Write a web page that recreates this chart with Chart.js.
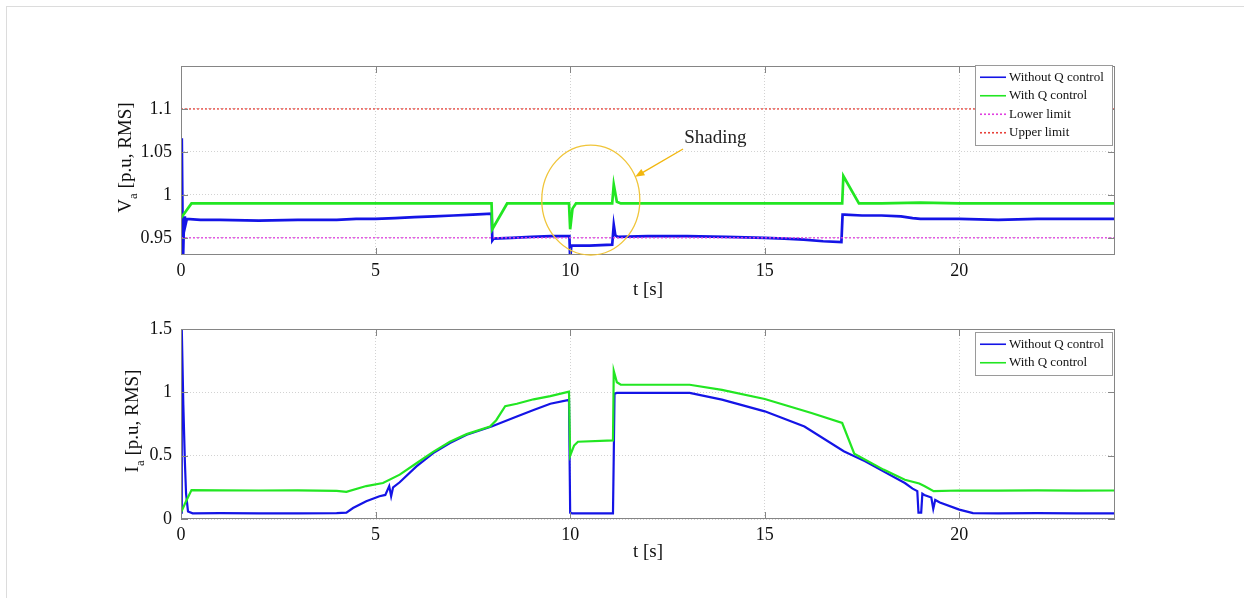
<!DOCTYPE html>
<html>
<head>
<meta charset="utf-8">
<script src="https://cdn.jsdelivr.net/npm/chart.js@4"></script>
<style>
  html, body { margin: 0; padding: 0; background: #fff; }
  body { width: 1244px; height: 598px; position: relative; overflow: hidden; }
  .frame { position: absolute; left: 6px; top: 6px; width: 1300px; height: 700px;
           border-top: 1px solid #dcdcdc; border-left: 1px solid #dcdcdc; }
  canvas { position: absolute; left: 0; }
  #vaChart { top: 0; }
  #iaChart { top: 305px; }
</style>
</head>
<body>
<div class="frame"></div>
<canvas id="vaChart" width="1244" height="305"></canvas>
<canvas id="iaChart" width="1244" height="293"></canvas>
<script>
// --- Va [p.u, RMS] (upper panel) ---
const vaTimeWithout = [0, 0.02, 0.05, 0.08, 0.1, 0.15, 0.5, 1, 2, 3, 4, 4.5, 5, 5.5, 6, 6.5, 7, 7.5, 7.98,
  8.0, 8.03, 8.5, 9, 9.5, 9.98, 10.0, 10.03, 10.5, 11.08, 11.12, 11.16, 11.22, 12, 13, 14, 15,
  15.5, 16, 16.5, 16.97, 17.0, 17.05, 17.5, 18, 18.5, 18.8, 19, 19.5, 20, 21, 22, 23, 24];
const vaWithout = [0.92, 1.066, 0.92, 0.975, 0.962, 0.972, 0.971, 0.971, 0.970, 0.971, 0.971, 0.972, 0.972, 0.973, 0.974, 0.975, 0.976, 0.977, 0.978,
  0.947, 0.949, 0.95, 0.951, 0.952, 0.952, 0.925, 0.941, 0.941, 0.942, 0.965, 0.953, 0.951, 0.952, 0.952, 0.951, 0.95,
  0.949, 0.948, 0.946, 0.945, 0.977, 0.977, 0.976, 0.976, 0.975, 0.973, 0.972, 0.972, 0.972, 0.971, 0.972, 0.972, 0.972];

const vaTimeWith = [0, 0.27, 1, 2, 3, 4, 5, 6, 7, 7.98, 8.0, 8.38, 9, 9.97, 10.0, 10.06, 10.15, 11.08,
  11.12, 11.2, 11.3, 12, 13, 14, 15, 16, 16.99, 17.02, 17.42, 18, 19, 20, 21, 22, 23, 24];
const vaWith = [0.973, 0.99, 0.99, 0.99, 0.99, 0.99, 0.99, 0.99, 0.99, 0.99, 0.96, 0.99, 0.99, 0.99, 0.96, 0.984, 0.99, 0.99,
  1.012, 0.992, 0.99, 0.99, 0.99, 0.99, 0.99, 0.99, 0.99, 1.022, 0.99, 0.99, 0.991, 0.99, 0.99, 0.99, 0.99, 0.99];

const limitTime = [0, 24];
const lowerLimit = [0.95, 0.95];
const upperLimit = [1.1, 1.1];

// --- Ia [p.u, RMS] (lower panel) ---
const iaTimeWithout = [0, 0.02, 0.06, 0.1, 0.13, 0.18, 0.3, 1, 2, 3, 4, 4.25, 4.42, 4.76, 5.1, 5.25, 5.35, 5.4, 5.45, 5.62,
  6.05, 6.48, 6.91, 7.34, 7.98, 8.63, 9.06, 9.49, 9.97, 10.0, 10.05, 11.1, 11.12, 11.14, 11.2,
  12, 13.07, 13.9, 15, 16.02, 17.03, 17.58, 18.05, 18.6, 18.8, 18.92, 18.95, 19.02, 19.05, 19.1, 19.28, 19.33, 19.38, 19.5,
  20, 20.35, 21, 22, 23, 24];
const iaWithout = [0.05, 1.5, 0.9, 0.45, 0.2, 0.06, 0.045, 0.047, 0.044, 0.045, 0.046, 0.05, 0.087, 0.14, 0.18, 0.19, 0.26, 0.18, 0.25, 0.29,
  0.415, 0.52, 0.6, 0.665, 0.73, 0.81, 0.86, 0.91, 0.94, 0.05, 0.045, 0.045, 0.5, 0.99, 0.995,
  0.995, 0.995, 0.942, 0.85, 0.73, 0.535, 0.455, 0.376, 0.284, 0.24, 0.22, 0.05, 0.05, 0.2, 0.19, 0.17, 0.08, 0.15, 0.13,
  0.074, 0.047, 0.045, 0.046, 0.045, 0.045];

const iaTimeWith = [0, 0.1, 0.27, 1, 2, 3, 4, 4.25, 4.76, 5.19, 5.62, 6.05, 6.48, 6.91, 7.34, 7.94,
  8.1, 8.33, 8.63, 9.06, 9.49, 9.97, 10.0, 10.1, 10.2, 11.1, 11.12, 11.2, 11.3, 12, 13.07, 13.9, 15, 16.2, 16.99,
  17.3, 18.05, 18.6, 18.97, 19.1, 19.34, 20, 21, 22, 23, 24];
const iaWith = [0.05, 0.12, 0.228, 0.226, 0.225, 0.226, 0.222, 0.215, 0.26, 0.284, 0.35, 0.44, 0.53, 0.61, 0.67, 0.73,
  0.78, 0.89, 0.91, 0.945, 0.97, 1.006, 0.5, 0.58, 0.61, 0.62, 1.17, 1.08, 1.06, 1.06, 1.06, 1.02, 0.947, 0.837, 0.758,
  0.516, 0.39, 0.31, 0.28, 0.26, 0.22, 0.225, 0.224, 0.226, 0.224, 0.225];

// ticks and labels
const timeTicks = [0, 5, 10, 15, 20];
const vaTicks = [0.95, 1, 1.05, 1.1];
const iaTicks = [0, 0.5, 1, 1.5];
const seriesLabels = ['Without Q control', 'With Q control', 'Lower limit', 'Upper limit'];

// annotation (data coords of the upper panel)
const shadingNote = { text: 'Shading', t: 12.93, v: 1.066,
  circle: { t: 10.53, v: 0.994, dt: 1.26, dv: 0.064 },
  arrowFrom: { t: 12.9, v: 1.0534 }, arrowTo: { t: 11.67, v: 1.021 } };

const SERIF = "'Liberation Serif', 'Times New Roman', serif";
const BLUE = '#1414e6';
const GREEN = '#22e622';

function pts(ts, vs) {
  return ts.map((t, i) => ({ x: t, y: vs[i] }));
}

// MATLAB-like box with inward ticks
const matlabAxes = {
  id: 'matlabAxes',
  afterDatasetsDraw(chart) {
    const { ctx, chartArea: a, scales: { x, y } } = chart;
    ctx.save();
    ctx.strokeStyle = '#858585';
    ctx.lineWidth = 1;
    ctx.beginPath();
    x.ticks.forEach(t => {
      const px = Math.round(x.getPixelForValue(t.value)) + 0.5;
      ctx.moveTo(px, a.bottom); ctx.lineTo(px, a.bottom - 7);
      ctx.moveTo(px, a.top); ctx.lineTo(px, a.top + 7);
    });
    y.ticks.forEach(t => {
      const py = Math.round(y.getPixelForValue(t.value)) + 0.5;
      ctx.moveTo(a.left, py); ctx.lineTo(a.left + 7, py);
      ctx.moveTo(a.right, py); ctx.lineTo(a.right - 7, py);
    });
    ctx.stroke();
    ctx.strokeRect(a.left + 0.5, a.top + 0.5, a.width - 1, a.height - 1);
    ctx.restore();
  }
};

// legend drawn as a framed box inside the plot, top-right
const boxLegend = {
  id: 'boxLegend',
  afterDraw(chart, args, opts) {
    const { ctx, chartArea: a } = chart;
    const sets = chart.data.datasets;
    const rowH = 18.5;
    const w = 137;
    const h = sets.length * rowH + 6;
    const x0 = a.right - w - 3;
    const y0 = a.top + opts.offsetTop;
    ctx.save();
    ctx.fillStyle = '#fff';
    ctx.fillRect(x0, y0, w, h);
    ctx.strokeStyle = '#9a9a9a';
    ctx.lineWidth = 1;
    ctx.strokeRect(Math.round(x0) + 0.5, Math.round(y0) + 0.5, w, h);
    ctx.font = '13px ' + SERIF;
    ctx.textBaseline = 'middle';
    ctx.fillStyle = '#111';
    sets.forEach((ds, i) => {
      const cy = y0 + 3 + rowH * i + rowH / 2;
      ctx.strokeStyle = ds.borderColor;
      ctx.lineWidth = 1.6;
      ctx.setLineDash(ds.borderDash || []);
      ctx.beginPath();
      ctx.moveTo(x0 + 5, cy); ctx.lineTo(x0 + 31, cy);
      ctx.stroke();
      ctx.setLineDash([]);
      ctx.fillText(ds.label, x0 + 34, cy);
    });
    ctx.restore();
  }
};

// rotated y label with a subscript
const yLabel = {
  id: 'yLabel',
  afterDraw(chart, args, opts) {
    const { ctx, chartArea: a } = chart;
    const big = '19px ' + SERIF, small = '13px ' + SERIF;
    ctx.save();
    ctx.font = big;
    const w1 = ctx.measureText(opts.main).width;
    const w3 = ctx.measureText(opts.rest).width;
    ctx.font = small;
    const w2 = ctx.measureText(opts.sub).width;
    const total = w1 + w2 + w3;
    ctx.translate(a.left + opts.dx, (a.top + a.bottom) / 2 - 3);
    ctx.rotate(-Math.PI / 2);
    ctx.fillStyle = '#111';
    ctx.textBaseline = 'alphabetic';
    let x = -total / 2;
    ctx.font = big; ctx.fillText(opts.main, x, 0); x += w1;
    ctx.font = small; ctx.fillText(opts.sub, x, 6); x += w2;
    ctx.font = big; ctx.fillText(opts.rest, x, 0);
    ctx.restore();
  }
};

// yellow circle, arrow and "Shading" text
const shadingMark = {
  id: 'shadingMark',
  afterDatasetsDraw(chart) {
    const { ctx, scales: { x, y } } = chart;
    const n = shadingNote;
    const cx = x.getPixelForValue(n.circle.t), cy = y.getPixelForValue(n.circle.v);
    const rx = x.getPixelForValue(n.circle.t + n.circle.dt) - cx;
    const ry = cy - y.getPixelForValue(n.circle.v + n.circle.dv);
    ctx.save();
    ctx.strokeStyle = '#f0c53a';
    ctx.lineWidth = 1.3;
    ctx.beginPath();
    ctx.ellipse(cx, cy, rx, ry, 0, 0, Math.PI * 2);
    ctx.stroke();

    const x1 = x.getPixelForValue(n.arrowFrom.t), y1 = y.getPixelForValue(n.arrowFrom.v);
    const x2 = x.getPixelForValue(n.arrowTo.t), y2 = y.getPixelForValue(n.arrowTo.v);
    const ang = Math.atan2(y2 - y1, x2 - x1);
    ctx.strokeStyle = '#f2b70f';
    ctx.fillStyle = '#f2b70f';
    ctx.lineWidth = 1.4;
    ctx.beginPath();
    ctx.moveTo(x1, y1);
    ctx.lineTo(x2 - 6 * Math.cos(ang), y2 - 6 * Math.sin(ang));
    ctx.stroke();
    ctx.beginPath();
    ctx.moveTo(x2, y2);
    ctx.lineTo(x2 - 10 * Math.cos(ang - 0.38), y2 - 10 * Math.sin(ang - 0.38));
    ctx.lineTo(x2 - 10 * Math.cos(ang + 0.38), y2 - 10 * Math.sin(ang + 0.38));
    ctx.closePath();
    ctx.fill();

    ctx.fillStyle = '#222';
    ctx.font = '19px ' + SERIF;
    ctx.textBaseline = 'middle';
    ctx.fillText(n.text, x.getPixelForValue(n.t), y.getPixelForValue(n.v));
    ctx.restore();
  }
};

function lineSet(label, data, color, width, dash, order) {
  return { label: label, data: data, borderColor: color, backgroundColor: color,
    borderWidth: width, borderDash: dash, order: order, pointRadius: 0, fill: false, tension: 0 };
}

function buildPanel(canvasId, p) {
  const canvas = document.getElementById(canvasId);
  return new Chart(canvas.getContext('2d'), {
    type: 'line',
    data: { datasets: p.datasets },
    options: {
      responsive: false,
      animation: false,
      layout: { padding: { left: 0, right: 129, top: p.padTop, bottom: 0 } },
      plugins: {
        legend: { display: false },
        tooltip: { enabled: false },
        boxLegend: { offsetTop: p.legendTop },
        yLabel: p.yLabel
      },
      scales: {
        x: {
          type: 'linear', min: 0, max: 24,
          afterBuildTicks: s => { s.ticks = timeTicks.map(v => ({ value: v })); },
          afterFit: s => { s.height = p.xHeight; },
          ticks: { font: { family: SERIF, size: 18 }, color: '#111', padding: 5, maxRotation: 0, autoSkip: false,
                   callback: v => String(v) },
          grid: { color: '#d2d2d2', lineWidth: 1, drawTicks: false },
          border: { display: false, dash: [1, 2] },
          title: { display: true, text: 't [s]', font: { family: SERIF, size: 19 }, color: '#111',
                   padding: { top: 0, bottom: p.titlePad } }
        },
        y: {
          type: 'linear', min: p.yMin, max: p.yMax,
          afterBuildTicks: s => { s.ticks = p.yTicks.map(v => ({ value: v })); },
          afterFit: s => { s.width = 181; },
          ticks: { font: { family: SERIF, size: 18 }, color: '#111', padding: 9, autoSkip: false,
                   callback: v => String(v) },
          grid: { color: '#d2d2d2', lineWidth: 1, drawTicks: false },
          border: { display: false, dash: [1, 2] }
        }
      }
    },
    plugins: p.plugins
  });
}

buildPanel('vaChart', {
  datasets: [
    lineSet(seriesLabels[0], pts(vaTimeWithout, vaWithout), BLUE, 2.7, [], 3),
    lineSet(seriesLabels[1], pts(vaTimeWith, vaWith), GREEN, 2.7, [], 2),
    lineSet(seriesLabels[2], pts(limitTime, lowerLimit), '#e040e0', 1.3, [2, 2], 1),
    lineSet(seriesLabels[3], pts(limitTime, upperLimit), '#e8423a', 1.3, [2, 2], 0)
  ],
  yMin: 0.93, yMax: 1.15, yTicks: vaTicks,
  padTop: 66, xHeight: 50, titlePad: 4, legendTop: -1,
  yLabel: { main: 'V', sub: 'a', rest: ' [p.u, RMS]', dx: -50 },
  plugins: [matlabAxes, shadingMark, boxLegend, yLabel]
});

buildPanel('iaChart', {
  datasets: [
    lineSet(seriesLabels[0], pts(iaTimeWithout, iaWithout), BLUE, 2.2, [], 1),
    lineSet(seriesLabels[1], pts(iaTimeWith, iaWith), GREEN, 2.2, [], 0)
  ],
  yMin: 0, yMax: 1.5, yTicks: iaTicks,
  padTop: 24, xHeight: 79, titlePad: 35, legendTop: 3,
  yLabel: { main: 'I', sub: 'a', rest: ' [p.u, RMS]', dx: -43 },
  plugins: [matlabAxes, boxLegend, yLabel]
});
</script>
</body>
</html>
